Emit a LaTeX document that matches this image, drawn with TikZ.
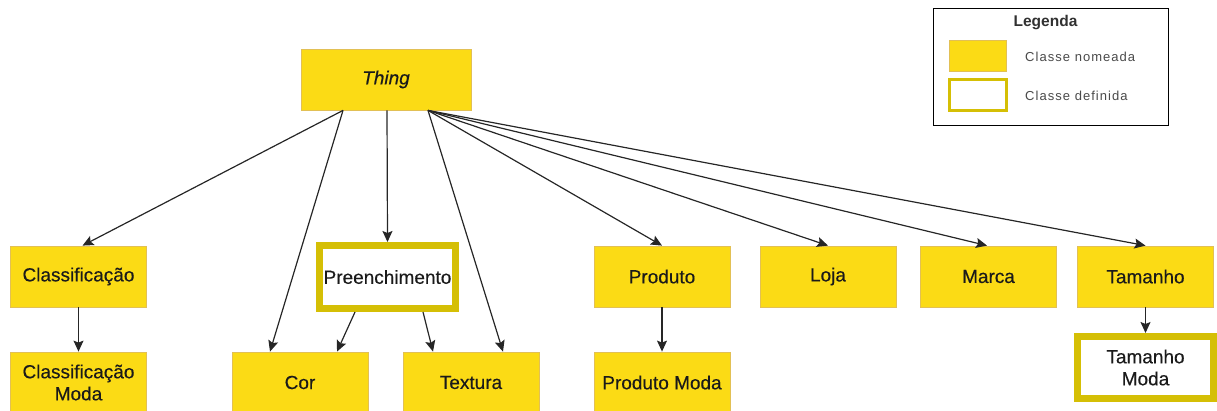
\documentclass[tikz,border=0pt]{standalone}
\usepackage{fontspec}
\setmainfont{Liberation Sans}
\usetikzlibrary{arrows.meta,calc}
\definecolor{clsfill}{HTML}{FBDB15}
\definecolor{clsline}{HTML}{E2C055}
\definecolor{defline}{HTML}{D5BF05}
\definecolor{txt}{HTML}{1A1A1A}
\definecolor{legtxt}{HTML}{4A4A4A}
\begin{document}
\begin{tikzpicture}[x=1pt,y=-1pt,
  boxfont/.style={font=\fontsize{19}{22}\selectfont\addfontfeature{FakeBold=0.3}},
  named/.style={draw=clsline, line width=0.8pt, fill=clsfill, minimum width=136pt,
    minimum height=61pt, inner sep=0pt, text=txt, boxfont, align=center},
  defined/.style={draw=defline, line width=7pt, fill=white, minimum width=136pt,
    minimum height=62pt, inner sep=0pt, text=txt, boxfont, align=center},
  link/.style={line width=1.2pt, draw=black!85, -{Stealth[length=11pt,width=10pt,inset=2pt]}},
  legtext/.style={anchor=west, text=legtxt, inner sep=0pt,
    font=\fontsize{13}{15}\selectfont\addfontfeature{LetterSpace=8}}
]
\useasboundingbox (0,0) rectangle (1217,410);

% root class
\node[named, minimum width=170pt,
  font=\fontsize{19}{22}\selectfont\itshape\addfontfeature{FakeBold=0.3}] (thing) at (386,79.5) {Thing};

% first level
\node[named]  (classif)  at (78.5,276.5)  {Classificação};
\node[defined, minimum height=63pt] (preench) at (387.5,277) {Preenchimento};
\node[named]  (produto)  at (662,276.5)   {Produto};
\node[named]  (loja)     at (828,276.5)   {Loja};
\node[named]  (marca)    at (988.5,276.5) {Marca};
\node[named]  (tamanho)  at (1145.5,276.5) {Tamanho};

% second level
\node[named]  (classmoda) at (78.5,382.5) {Classificação\\Moda};
\node[named]  (cor)       at (300,382.5)  {Cor};
\node[named]  (textura)   at (471,382.5)  {Textura};
\node[named]  (prodmoda)  at (662,382.5)  {Produto Moda};
\node[defined] (tammoda)  at (1145.5,367.5) {Tamanho\\Moda};

% subclass links from Thing
\draw[link] ($(thing.south)+(-43,0)$) -- ($(classif.north)+(4,0)$);
\draw[link] ($(thing.south)+(-43,0)$) -- ($(cor.north)+(-30,0)$);
\draw[link] ($(thing.south)+(1,0)$)   -- (preench.north);
\draw[link] ($(thing.south)+(42,0)$)  -- ($(textura.north)+(32,0)$);
\draw[link] ($(thing.south)+(42,0)$)  -- (produto.north);
\draw[link] ($(thing.south)+(42,0)$)  -- (loja.north);
\draw[link] ($(thing.south)+(42,0)$)  -- ($(marca.north)+(-1.5,0)$);
\draw[link] ($(thing.south)+(42,0)$)  -- (tamanho.north);

% lower links
\draw[link] (classif.south) -- (classmoda.north);
\draw[link] ($(preench.south)+(-32.5,0)$) -- ($(cor.north)+(37,0)$);
\draw[link] ($(preench.south)+(35.5,0)$)  -- ($(textura.north)+(-38,0)$);
\draw[link] (produto.south) -- (prodmoda.north);
\draw[link] (tamanho.south) -- (tammoda.north);

% legend
\node[draw=black, line width=1pt, fill=white, minimum width=235pt, minimum height=117pt,
  inner sep=0pt] (legend) at (1050.5,66.5) {};
\node[text=txt!90, inner sep=0pt, font=\fontsize{15.5}{17}\selectfont\bfseries] (legtitle) at (1045.5,23) {Legenda};
\node[draw=clsline, line width=0.8pt, fill=clsfill, minimum width=57pt, minimum height=31pt,
  inner sep=0pt] (swnamed) at (977.5,55.5) {};
\node[draw=defline, line width=3.3pt, fill=white, minimum width=56.6pt, minimum height=30.6pt,
  inner sep=0pt] (swdefined) at (978,95) {};
\node[legtext] (lnamed)   at (1025,57) {Classe nomeada};
\node[legtext] (ldefined) at (1025,96) {Classe definida};
\end{tikzpicture}
\end{document}
